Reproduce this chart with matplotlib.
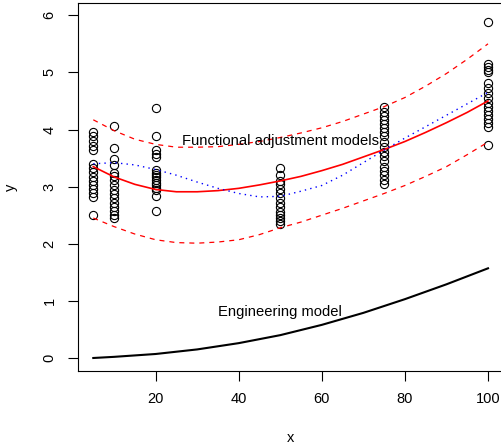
import matplotlib
matplotlib.use("Agg")
import matplotlib.pyplot as plt

plt.rcParams['font.family'] = ['Liberation Sans', 'DejaVu Sans']

# observations, grouped by x level
x_levels = [5, 10, 20, 50, 75, 100]
y_obs = [
    [3.95, 3.88, 3.80, 3.72, 3.65, 3.40, 3.32, 3.25, 3.17, 3.10, 3.03, 2.95, 2.88, 2.81, 2.50],
    [4.07, 3.67, 3.48, 3.38, 3.24, 3.19, 3.12, 3.03, 2.94, 2.87, 2.80, 2.72, 2.65, 2.58, 2.50, 2.45],
    [4.37, 3.89, 3.64, 3.57, 3.52, 3.29, 3.24, 3.20, 3.16, 3.12, 3.07, 3.03, 2.98, 2.94, 2.84, 2.58],
    [3.32, 3.20, 3.10, 3.05, 2.95, 2.88, 2.80, 2.72, 2.64, 2.56, 2.50, 2.45, 2.40, 2.35],
    [4.40, 4.31, 4.23, 4.17, 4.09, 4.02, 3.96, 3.88, 3.79, 3.70, 3.61, 3.53, 3.44, 3.35,
     3.27, 3.20, 3.12, 3.04],
    [5.89, 5.15, 5.10, 5.05, 5.00, 4.81, 4.72, 4.64, 4.55, 4.47, 4.40, 4.33, 4.25, 4.18,
     4.11, 4.05, 3.73],
]

# functional adjustment fit and band
fit_x = [5, 10, 15, 20, 25, 30, 35, 40, 45, 50, 55, 60, 65, 70, 75, 80, 85, 90, 95, 100]
fit_y = [3.35, 3.17, 3.04, 2.95, 2.91, 2.91, 2.93, 2.97, 3.03, 3.10, 3.18, 3.28, 3.39,
         3.52, 3.65, 3.79, 3.95, 4.12, 4.30, 4.50]
upper_y = [4.17, 3.98, 3.83, 3.74, 3.69, 3.69, 3.70, 3.74, 3.79, 3.86, 3.94, 4.03, 4.14,
           4.27, 4.40, 4.56, 4.76, 4.98, 5.23, 5.50]
lower_y = [2.45, 2.30, 2.17, 2.07, 2.02, 2.01, 2.03, 2.07, 2.16, 2.28, 2.38, 2.50, 2.62,
           2.75, 2.88, 3.02, 3.18, 3.35, 3.56, 3.78]

# smooth (dotted blue)
smooth_x = [5, 10, 15, 20, 25, 30, 35, 40, 45, 50, 55, 60, 65, 70, 75, 80, 90, 100]
smooth_y = [3.40, 3.42, 3.38, 3.30, 3.20, 3.08, 2.97, 2.88, 2.82, 2.83, 2.92, 3.02,
            3.20, 3.42, 3.64, 3.85, 4.25, 4.65]

# engineering model
eng_x = [5, 10, 20, 30, 40, 50, 60, 70, 80, 90, 100]
eng_y = [0.0, 0.02, 0.07, 0.15, 0.26, 0.40, 0.58, 0.79, 1.03, 1.29, 1.57]

fig = plt.figure(figsize=(5.01, 4.47), dpi=100)
ax = fig.add_axes([77.5 / 501, 75.7 / 447, 426.3 / 501, 368.6 / 447])

for xv, ys in zip(x_levels, y_obs):
    ax.plot([xv] * len(ys), ys, 'o', ms=5.9, mfc='none', mec='black', mew=0.8)

ax.plot(fit_x, fit_y, color='red', lw=1.2)
ax.plot(fit_x, upper_y, color='red', lw=0.9, ls=(0, (4, 4)))
ax.plot(fit_x, lower_y, color='red', lw=0.9, ls=(0, (4, 4)))
ax.plot(smooth_x, smooth_y, color='blue', lw=1.0, ls=(0, (1, 3)))
ax.plot(eng_x, eng_y, color='black', lw=1.5)

ax.text(50, 3.8, "Functional adjustment models", ha='center', va='center', fontsize=10.6)
ax.text(50, 0.8, "Engineering model", ha='center', va='center', fontsize=10.6)

ax.set_xlim(1.2, 103.8)
ax.set_ylim(-0.233, 6.22)
ax.set_xticks([20, 40, 60, 80, 100])
ax.set_yticks([0, 1, 2, 3, 4, 5, 6])
ax.tick_params(direction='out', length=7, width=0.8, labelsize=10.5, pad=8)
for lab in ax.get_yticklabels():
    lab.set_rotation(90)
    lab.set_va('center')
for s in ax.spines.values():
    s.set_linewidth(0.8)

ax.set_xlabel("x", fontsize=10.5, labelpad=18)
ax.set_ylabel("y", fontsize=10.5, labelpad=18)

fig.savefig("out.png", dpi=100)
